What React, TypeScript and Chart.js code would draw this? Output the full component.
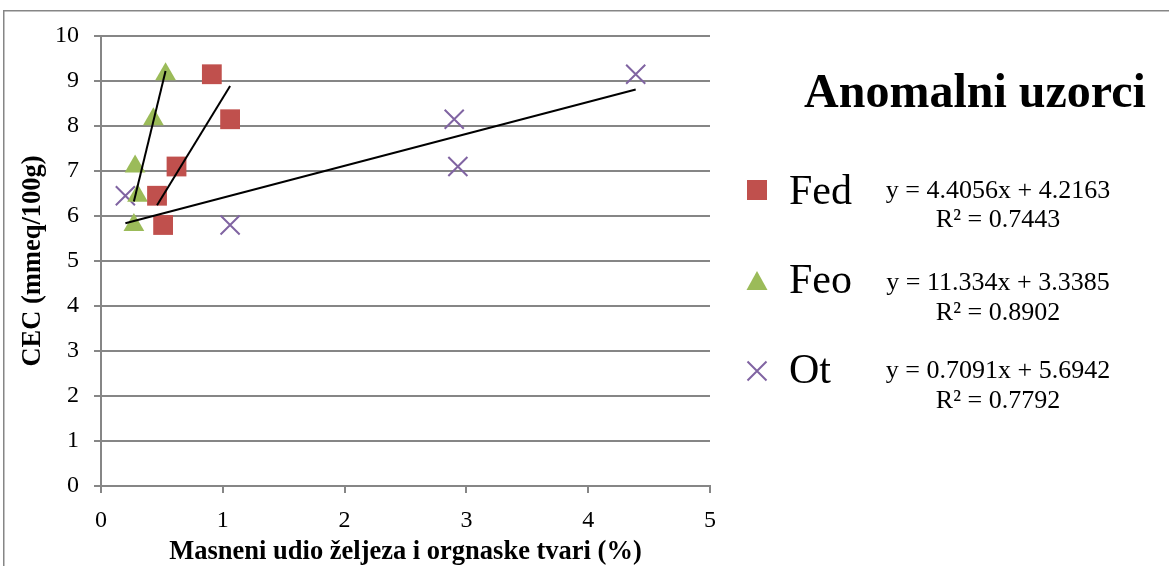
import React, { useEffect, useRef } from "react";
import { Chart, registerables } from "chart.js";

Chart.register(...registerables);

// ---------- data ----------
const chartTitle = "Anomalni uzorci";
const xAxisTitle = "Masneni udio željeza i orgnaske tvari (%)";
const yAxisTitle = "CEC (mmeq/100g)";

const seriesNames = ["Fed", "Feo", "Ot"];
const seriesColors = ["#C0504D", "#9BBB59", "#8064A2"];

const fedX = [0.91, 1.06, 0.62, 0.46, 0.51];
const fedY = [9.15, 8.15, 7.1, 6.45, 5.8];
const feoX = [0.53, 0.43, 0.28, 0.3, 0.27];
const feoY = [9.15, 8.15, 7.1, 6.45, 5.8];
const otX = [4.39, 2.9, 2.93, 0.2, 1.06];
const otY = [9.15, 8.15, 7.1, 6.45, 5.8];

const fedTrendX = [0.46, 1.06];
const fedTrendY = [6.24, 8.89];
const feoTrendX = [0.27, 0.53];
const feoTrendY = [6.32, 9.22];
const otTrendX = [0.2, 4.39];
const otTrendY = [5.84, 8.81];

const equations = ["y = 4.4056x + 4.2163", "y = 11.334x + 3.3385", "y = 0.7091x + 5.6942"];
const rSquared = ["R² = 0.7443", "R² = 0.8902", "R² = 0.7792"];

const xMin = 0, xMax = 5, xStep = 1;
const yMin = 0, yMax = 10, yStep = 1;

const toPts = (xs: number[], ys: number[]) => xs.map((x, i) => ({ x, y: ys[i] }));

const SERIF = "'Liberation Serif', 'Times New Roman', serif";

// ---------- plugin: frame + legend + title ----------
const decorPlugin = {
  id: "decor",
  beforeDraw(chart: any) {
    const ctx = chart.ctx as CanvasRenderingContext2D;
    ctx.save();
    ctx.fillStyle = "#ffffff";
    ctx.fillRect(0, 0, chart.width, chart.height);
    ctx.strokeStyle = "#868686";
    ctx.lineWidth = 1.5;
    ctx.beginPath();
    ctx.moveTo(3.75, chart.height + 2);
    ctx.lineTo(3.75, 10.75);
    ctx.lineTo(chart.width + 2, 10.75);
    ctx.stroke();
    ctx.restore();
  },
  afterDraw(chart: any) {
    const ctx = chart.ctx as CanvasRenderingContext2D;
    ctx.save();
    ctx.fillStyle = "#000";
    ctx.textBaseline = "alphabetic";
    ctx.textAlign = "center";
    ctx.font = `bold 48px ${SERIF}`;
    ctx.fillText(chartTitle, 975, 107);

    const markerX = 757;
    const markerY = [190, 282, 371];
    const labelBase = [204, 293, 383];
    const eqBase = [[198, 227], [290, 320], [378, 408]];
    for (let i = 0; i < seriesNames.length; i++) {
      const c = seriesColors[i];
      const my = markerY[i];
      ctx.fillStyle = c;
      ctx.strokeStyle = c;
      if (i === 0) {
        ctx.fillRect(markerX - 10, my - 10, 20, 20);
      } else if (i === 1) {
        ctx.beginPath();
        ctx.moveTo(markerX, my - 11);
        ctx.lineTo(markerX + 10.5, my + 8);
        ctx.lineTo(markerX - 10.5, my + 8);
        ctx.closePath();
        ctx.fill();
      } else {
        ctx.lineWidth = 2;
        ctx.beginPath();
        ctx.moveTo(markerX - 9.5, my - 9.5);
        ctx.lineTo(markerX + 9.5, my + 9.5);
        ctx.moveTo(markerX + 9.5, my - 9.5);
        ctx.lineTo(markerX - 9.5, my + 9.5);
        ctx.stroke();
      }
      ctx.fillStyle = "#000";
      ctx.textAlign = "left";
      ctx.font = `42px ${SERIF}`;
      ctx.fillText(seriesNames[i], 789, labelBase[i]);
      ctx.textAlign = "center";
      ctx.font = `26px ${SERIF}`;
      ctx.fillText(equations[i], 998, eqBase[i][0]);
      ctx.fillText(rSquared[i], 998, eqBase[i][1]);
    }
    ctx.restore();
  },
};

export default function App() {
  const ref = useRef<HTMLCanvasElement | null>(null);

  useEffect(() => {
    document.body.style.margin = "0";
    document.body.style.overflow = "hidden";
    const canvas = ref.current;
    if (!canvas) return;

    const pointDatasets = [
      {
        label: seriesNames[0],
        data: toPts(fedX, fedY),
        pointStyle: "rect",
        pointRadius: 14,
        backgroundColor: seriesColors[0],
        borderColor: seriesColors[0],
        borderWidth: 0,
        showLine: false,
        order: 2,
      },
      {
        label: seriesNames[1],
        data: toPts(feoX, feoY),
        pointStyle: "triangle",
        pointRadius: 12,
        backgroundColor: seriesColors[1],
        borderColor: seriesColors[1],
        borderWidth: 0,
        showLine: false,
        order: 2,
      },
      {
        label: seriesNames[2],
        data: toPts(otX, otY),
        pointStyle: "crossRot",
        pointRadius: 13.5,
        backgroundColor: seriesColors[2],
        borderColor: seriesColors[2],
        borderWidth: 2,
        showLine: false,
        order: 2,
      },
    ];
    const trendDatasets = [
      [fedTrendX, fedTrendY],
      [feoTrendX, feoTrendY],
      [otTrendX, otTrendY],
    ].map(([xs, ys], i) => ({
      label: "trend " + seriesNames[i],
      data: toPts(xs, ys),
      showLine: true,
      pointRadius: 0,
      borderColor: "#000000",
      borderWidth: 2,
      fill: false,
      order: 1,
    }));

    const chart = new Chart(canvas, {
      type: "scatter",
      data: { datasets: [...pointDatasets, ...trendDatasets] as any },
      plugins: [decorPlugin],
      options: {
        animation: false,
        responsive: false,
        maintainAspectRatio: false,
        layout: { padding: { left: 0, right: 459, top: 36, bottom: 0 } },
        plugins: {
          legend: { display: false },
          tooltip: { enabled: false },
          title: { display: false },
        },
        scales: {
          x: {
            type: "linear",
            min: xMin,
            max: xMax,
            afterFit: (s: any) => {
              s.height = 80;
            },
            ticks: {
              stepSize: xStep,
              color: "#000",
              padding: 13,
              font: { family: SERIF, size: 24 },
            },
            grid: {
              drawOnChartArea: false,
              drawTicks: true,
              tickLength: 7,
              color: "#868686",
              lineWidth: 2,
            },
            border: { display: true, color: "#868686", width: 2 },
            title: {
              display: true,
              text: xAxisTitle,
              color: "#000",
              font: { family: SERIF, size: 26.5, weight: "bold" },
              padding: { top: 0, bottom: -2 },
            },
          },
          y: {
            type: "linear",
            min: yMin,
            max: yMax,
            afterFit: (s: any) => {
              s.width = 101;
            },
            ticks: {
              stepSize: yStep,
              color: "#000",
              padding: 15,
              font: { family: SERIF, size: 24 },
            },
            grid: {
              drawOnChartArea: true,
              drawTicks: true,
              tickLength: 7,
              color: "#868686",
              lineWidth: 2,
            },
            border: { display: true, color: "#868686", width: 2 },
            title: {
              display: true,
              text: yAxisTitle,
              color: "#000",
              font: { family: SERIF, size: 26.5, weight: "bold" },
              padding: { top: 17, bottom: 0 },
            },
          },
        },
      },
    } as any);

    return () => chart.destroy();
  }, []);

  return (
    <div style={{ position: "absolute", left: 0, top: 0, width: 1169, height: 566 }}>
      <canvas ref={ref} width={1169} height={566} style={{ width: 1169, height: 566, display: "block" }} />
    </div>
  );
}
